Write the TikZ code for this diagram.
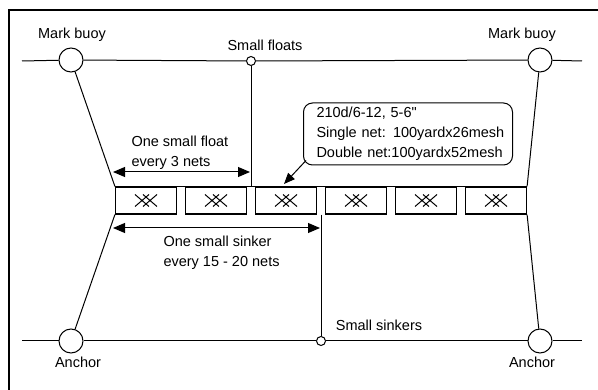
\documentclass[tikz,border=0pt]{standalone}
\usepackage{fontspec}
\setmainfont{Liberation Sans}[Ligatures=TeXOff]
\usetikzlibrary{arrows.meta,positioning,calc}

\begin{document}
\begin{tikzpicture}[
  x=1pt,y=-1pt,
  >={Triangle[length=12pt,width=10pt]},
  font=\fontsize{14.5}{20}\selectfont,
  line width=1pt,
  buoy/.style={draw,circle,fill=white,minimum size=24pt,inner sep=0pt},
  floater/.style={draw,circle,fill=white,minimum size=9pt,inner sep=0pt},
  netbox/.style={draw,line width=1.2pt,minimum width=61pt,minimum height=27pt,inner sep=0pt},
  lbl/.style={inner sep=0pt},
  info/.style={draw,rounded corners=9pt,align=left,text width=193pt,inner xsep=8pt,minimum height=62pt},
  dim/.style={<->},
  ptr/.style={->,>={Triangle[length=11pt,width=9pt]}}
]
\useasboundingbox (0,0) rectangle (598,390);
% frame
\draw[line width=2.6pt] (9,392) -- (9,10) -- (600,10);

% buoys, anchors, floats and sinkers
\node[buoy] (lb) at (71,60) {};
\node[buoy] (rb) at (540,60) {};
\node[buoy] (la) at (71,341) {};
\node[buoy] (ra) at (540,341) {};
\node[floater] (sf) at (251,61) {};
\node[floater] (ss) at (321,341) {};
\coordinate (tl) at (22,61);
\coordinate (tr) at (582,61);
\coordinate (bl) at (22,341);
\coordinate (br) at (582,341);

% ropes
\draw (tl) -- (lb) -- (sf) -- (rb) -- (tr);
\draw (bl) -- (la) -- (ss) -- (ra) -- (br);

% nets
\foreach \i in {1,...,6}
  \node[netbox] (n\i) at ({146+70*(\i-1)},200.5) {};
\draw[line width=1.2pt] (n1.north west) -- (n6.north east);
\foreach \i in {1,...,6} {
  \draw (n\i) ++(-11,-6) -- ++(14,12) ++(0,-12) -- ++(-14,12);
  \draw (n\i) ++(-3,-6) -- ++(14,12) ++(0,-12) -- ++(-14,12);
}

% side lines
\draw (lb) -- (n1.north west);
\draw (n1.south west) -- (la);
\draw (rb) -- (n6.north east);
\draw (n6.south east) -- (ra);
\draw (sf) -- (sf |- n1.north);
\draw (ss |- n1.south) -- (ss);

% spacing arrows
\coordinate (f1) at (113,172);
\coordinate (f2) at (250,172);
\coordinate (s1) at (113,228);
\coordinate (s2) at (320,228);
\draw[dim] (f1) -- (f2);
\draw[dim] (s1) -- (s2);

% labels
\node[lbl] (mbl) at (72,35) {Mark buoy};
\node[lbl] (mbr) at (522,35) {Mark buoy};
\node[lbl] (sfl) at (265,45) {Small floats};
\node[lbl] (ssl) at (379,325) {Small sinkers};
\node[lbl] (anl) at (78,362) {Anchor};
\node[lbl] (anr) at (532,362) {Anchor};
\node[lbl,align=left,anchor=west] (fl) at (131,153) {One small float\\every 3 nets};
\node[lbl,align=left,anchor=west] (sl) at (163,253) {One small sinker\\every 15 - 20 nets};

% callout
\node[info,anchor=west] (spec) at (303,134) {\hspace*{5pt}210d/6-12, 5-6"\\\hspace*{5pt}Single net: 100yardx26mesh\\\hspace*{5pt}Double net:100yardx52mesh};
\coordinate (tip) at (284,184);
\draw[ptr] ([xshift=3pt,yshift=5pt]spec.south west) -- (tip);
\end{tikzpicture}
\end{document}
